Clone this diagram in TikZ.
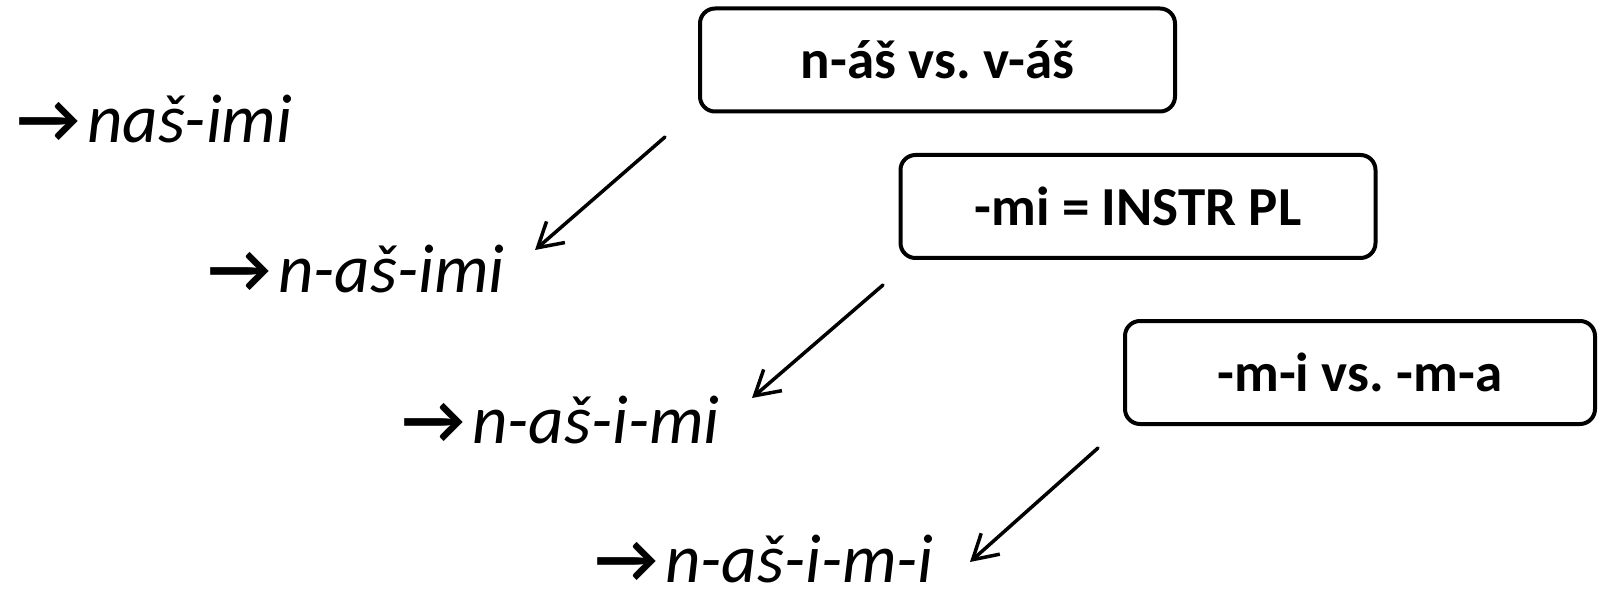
\documentclass[tikz,border=0pt]{standalone}
\usepackage{fontspec}
\setmainfont{Carlito}
\usetikzlibrary{arrows.meta}
\frenchspacing
\newcommand{\formarrow}{\makebox[70pt][l]{\textbf{→}}}
\tikzset{
  box/.style={draw=black, line width=4pt, rounded corners=15pt, minimum width=475pt, minimum height=103pt, inner sep=0pt, font=\fontsize{55}{60}\selectfont\bfseries},
  form/.style={anchor=base west, inner sep=0pt, font=\fontsize{69}{74}\selectfont},
  conn/.style={draw=black, line width=3.5pt, line cap=round, -{Straight Barb[length=24pt,width=28pt,line width=3.5pt]}}
}
\begin{document}
\begin{tikzpicture}[x=1pt,y=-1pt]
\useasboundingbox (0,0) rectangle (1599,604);
\node[box] (b1) at (937.5,60) {n-áš vs. v-áš};
\node[box] (b2) at (1138,206.5) {-mi = INSTR PL};
\node[box, minimum width=470pt] (b3) at (1360,372.5) {-m-i vs. -m-a};
\node[form] (f1) at (17,143) {\formarrow\textit{naš-imi}};
\node[form] (f2) at (208,293) {\formarrow\textit{n-aš-imi}};
\node[form] (f3) at (402,443) {\formarrow\textit{n-aš-i-mi}};
\node[form] (f4) at (595,582) {\formarrow\textit{n-aš-i-m-i}};
\coordinate (s1) at (665,137);
\coordinate (t1) at (535,250);
\coordinate (s2) at (883,285);
\coordinate (t2) at (752,398);
\coordinate (s3) at (1098,448);
\coordinate (t3) at (970,562);
\draw[conn] (s1) -- (t1);
\draw[conn] (s2) -- (t2);
\draw[conn] (s3) -- (t3);
\end{tikzpicture}
\end{document}
